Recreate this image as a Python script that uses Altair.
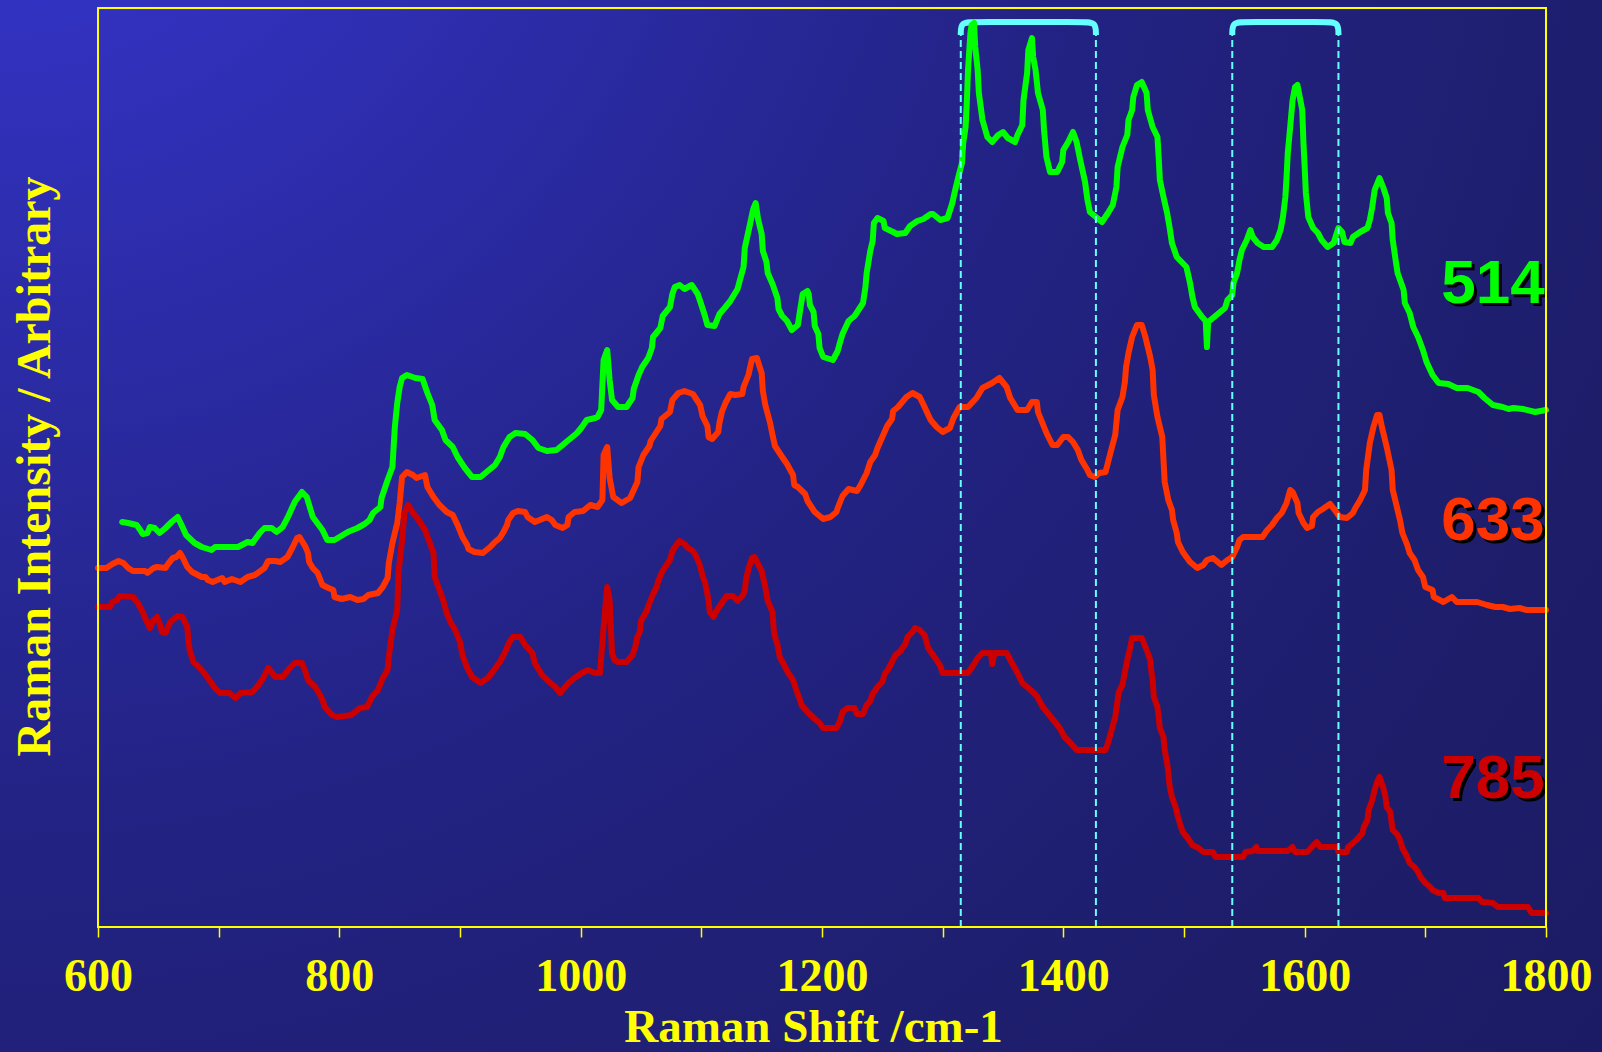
import altair as alt
import pandas as pd

# ---------------- data (wavenumber in cm-1, intensity in arbitrary units) ----------------
wn_514 = [620,625,632,635,637,641,643,647,651,656,661,666,670,673,680,686,694,697,716,724,
          728,734,738,744,748,753,757,763,769,773,778,786,790,796,807,815,821,825,828,834,
          835,840,844,845,846,848,850,852,856,863,869,873,877,879,885,888,894,898,904,910,
          917,922,929,933,936,941,946,954,960,965,972,980,985,990,997,1001,1005,1012,1014,1017,
          1019,1022,1024,1026,1031,1038,1043,1044,1048,1051,1056,1059,1060,1066,1068,1074,1076,1078,1082,1086,
          1092,1097,1099,1103,1105,1111,1115,1120,1124,1130,1132,1135,1136,1140,1143,1145,1147,1150,1151,1154,
          1155,1159,1163,1164,1167,1171,1175,1180,1182,1184,1188,1189,1190,1193,1194,1197,1198,1201,1209,1213,
          1215,1217,1222,1227,1234,1236,1237,1240,1242,1243,1246,1251,1252,1259,1262,1269,1273,1279,1284,1290,
          1292,1298,1304,1308,1310,1313,1316,1317,1319,1320,1321,1323,1324,1326,1327,1329,1330,1333,1337,1341,
          1346,1350,1354,1360,1362,1366,1367,1370,1371,1374,1375,1377,1379,1383,1384,1386,1389,1395,1399,1400,
          1404,1408,1411,1414,1418,1420,1422,1428,1432,1437,1441,1444,1445,1449,1453,1454,1457,1458,1461,1465,
          1469,1470,1474,1478,1479,1480,1483,1486,1488,1490,1494,1502,1505,1507,1509,1515,1518,1519,1520,1527,
          1534,1536,1540,1541,1544,1546,1548,1552,1555,1557,1561,1566,1573,1577,1580,1582,1584,1585,1586,1588,
          1590,1592,1594,1598,1599,1600,1601,1603,1607,1611,1614,1619,1624,1628,1631,1633,1638,1640,1646,1652,
          1654,1656,1658,1662,1665,1668,1669,1672,1673,1675,1677,1682,1683,1687,1690,1694,1698,1701,1706,1711,
          1719,1726,1735,1744,1749,1756,1764,1769,1773,1781,1791,1800]
int_514 = [405,404,402,397,393,394,400,399,394,399,405,410,400,392,384,380,377,380,380,385,
           384,394,399,399,395,400,409,425,435,430,410,397,387,387,395,399,403,407,414,420,
           429,447,460,480,500,524,540,549,552,549,548,534,522,507,497,487,480,470,459,450,
           450,455,462,470,480,490,494,493,487,479,476,477,482,487,494,500,507,509,510,517,
           567,577,547,527,520,520,529,538,552,560,569,579,590,599,611,620,633,640,642,638,
           642,633,626,611,602,601,613,620,626,638,647,660,679,701,718,724,708,693,676,665,
           654,643,629,618,611,606,597,602,618,633,636,633,622,615,601,593,579,570,567,576,
           585,593,606,611,624,640,654,676,686,704,709,706,699,695,693,694,701,706,708,713,
           713,707,709,724,735,750,764,784,800,824,857,894,902,904,880,857,834,807,790,785,
           792,795,789,785,792,802,827,854,877,889,870,857,834,817,797,770,755,755,765,777,
           785,795,785,767,745,727,715,709,705,714,722,740,760,780,792,807,817,830,842,845,
           834,817,800,790,770,747,730,714,700,684,670,660,644,630,620,610,606,580,605,612,
           619,627,632,644,654,667,677,687,697,690,684,680,680,687,697,710,730,750,774,800,
           827,840,842,817,784,760,734,710,699,694,687,680,684,699,695,685,684,690,695,699,
           707,720,737,749,740,729,714,704,687,670,654,637,624,614,600,590,577,565,552,544,
           543,539,539,535,529,522,520,518,519,518,515,517]

wn_633 = [600,607,612,617,621,625,629,639,641,646,649,656,658,662,665,668,670,674,678,686,
          689,691,695,703,705,711,718,724,730,738,741,747,751,757,761,765,767,772,774,775,
          778,782,786,791,795,796,802,809,815,820,824,832,836,840,841,844,848,850,852,856,
          861,864,871,873,878,883,889,894,898,902,906,907,912,919,925,929,933,936,939,940,
          944,948,954,956,962,966,972,976,979,985,989,990,995,1002,1008,1014,1018,1019,1022,1024,
          1027,1034,1041,1047,1048,1052,1057,1058,1066,1067,1074,1076,1081,1086,1093,1099,1101,1105,1106,1109,
          1114,1115,1117,1120,1124,1128,1134,1135,1139,1142,1146,1150,1151,1153,1157,1159,1161,1167,1171,1176,
          1177,1180,1186,1188,1194,1201,1207,1212,1213,1217,1222,1229,1232,1237,1240,1244,1246,1250,1254,1258,
          1259,1263,1270,1275,1281,1285,1290,1295,1300,1306,1309,1314,1321,1328,1333,1341,1347,1353,1356,1362,
          1370,1374,1378,1379,1386,1391,1395,1400,1404,1408,1412,1415,1420,1422,1426,1430,1435,1439,1443,1445,
          1449,1451,1452,1454,1457,1461,1465,1468,1472,1474,1475,1478,1482,1483,1484,1487,1490,1491,1494,1495,
          1499,1505,1511,1516,1519,1524,1528,1531,1536,1540,1544,1546,1549,1557,1565,1569,1573,1577,1581,1585,
          1588,1590,1594,1595,1599,1602,1606,1607,1611,1615,1621,1625,1629,1635,1640,1642,1646,1650,1651,1654,
          1657,1660,1662,1664,1668,1672,1673,1677,1679,1681,1685,1687,1691,1694,1698,1700,1706,1707,1715,1722,
          1726,1743,1751,1758,1764,1770,1778,1784,1800]
int_633 = [359,359,363,366,364,359,356,356,354,359,360,359,363,369,370,374,370,360,355,350,
           350,347,345,349,345,348,345,350,352,359,366,366,365,370,379,389,390,380,374,365,
           359,354,342,339,337,330,328,330,327,328,332,334,340,349,364,384,404,424,450,455,
           452,449,452,440,430,422,415,412,402,390,382,378,375,374,380,385,389,395,402,407,
           414,416,415,410,405,407,410,407,402,399,402,410,415,416,422,420,427,472,480,449,
           430,424,429,445,460,472,481,486,501,508,515,527,534,536,533,522,511,501,490,488,
           495,504,515,524,533,532,533,540,552,568,569,554,536,522,504,492,481,470,463,452,
           442,440,433,426,415,408,410,415,419,431,438,436,442,454,465,472,479,490,501,508,
           516,520,530,534,530,520,507,500,495,499,509,520,520,529,539,544,549,540,529,517,
           517,525,525,515,494,482,482,490,490,485,477,467,457,452,450,454,455,474,492,517,
           530,545,560,574,590,602,602,590,570,557,532,510,490,467,445,427,417,407,394,385,
           375,365,359,362,367,369,365,362,367,370,380,387,390,390,390,397,402,409,414,424,
           437,435,424,414,404,399,401,410,415,418,423,417,410,409,414,419,427,437,457,484,
           500,512,512,500,480,457,437,417,407,394,382,374,367,357,350,340,337,330,325,330,
           325,325,322,320,320,318,319,317,317]

wn_785 = [600,610,612,616,618,629,633,637,639,641,643,646,649,651,653,656,658,660,664,666,
          670,674,675,676,679,682,686,691,697,701,709,714,718,728,733,737,741,747,753,759,
          763,769,772,774,780,784,786,788,794,798,810,817,823,827,832,836,840,841,844,848,
          849,852,854,857,861,864,871,875,878,879,883,886,889,892,896,900,902,906,910,917,
          923,927,933,937,941,944,950,954,960,962,968,975,979,983,990,995,1001,1006,1012,1016,
          1019,1022,1024,1026,1028,1031,1038,1043,1045,1047,1049,1050,1055,1057,1060,1063,1064,1067,1070,1074,
          1076,1080,1082,1086,1089,1093,1096,1099,1101,1103,1105,1106,1107,1110,1113,1117,1121,1126,1130,1134,
          1136,1137,1139,1142,1144,1147,1150,1153,1155,1159,1160,1161,1163,1165,1169,1172,1176,1179,1182,1183,
          1188,1194,1198,1201,1212,1215,1217,1221,1227,1229,1234,1237,1240,1242,1246,1250,1252,1255,1261,1265,
          1269,1271,1275,1277,1281,1285,1288,1292,1295,1298,1300,1314,1321,1325,1329,1333,1340,1341,1343,1353,
          1357,1362,1366,1372,1378,1383,1391,1397,1401,1406,1411,1435,1437,1440,1443,1445,1446,1449,1451,1453,
          1455,1457,1465,1468,1470,1472,1473,1474,1475,1478,1479,1480,1483,1484,1486,1487,1488,1490,1493,1495,
          1497,1499,1503,1507,1512,1516,1524,1526,1549,1551,1557,1560,1561,1586,1590,1592,1602,1606,1610,1613,
          1627,1628,1635,1636,1640,1643,1648,1649,1652,1653,1656,1658,1660,1662,1665,1667,1668,1671,1672,1673,
          1677,1679,1681,1685,1687,1691,1694,1696,1700,1704,1706,1711,1715,1716,1744,1747,1756,1760,1785,1788,
          1800]
int_785 = [320,320,325,327,331,330,324,315,309,304,299,307,310,304,295,294,300,305,309,311,
           310,300,285,277,265,262,257,249,239,234,234,229,234,235,242,249,259,250,250,259,
           264,264,255,247,240,232,227,220,212,210,212,219,220,230,237,249,257,270,297,317,
           354,387,414,422,414,410,397,384,374,350,337,327,314,305,297,285,272,259,250,244,
           249,255,265,274,285,290,290,282,274,264,252,244,240,234,244,249,254,257,254,254,
           300,340,327,274,267,265,265,272,279,290,295,306,317,324,333,340,345,354,360,367,
           376,383,386,383,379,376,370,361,351,345,333,326,315,310,317,324,331,331,326,331,
           336,347,358,369,370,363,356,340,326,315,297,290,283,270,261,254,247,236,226,222,
           215,208,204,199,199,206,215,219,219,213,213,222,226,233,240,245,253,258,272,276,
           283,290,295,299,297,292,279,272,267,261,254,254,254,261,269,274,274,263,274,274,
           265,254,244,238,231,220,208,199,190,184,177,177,184,197,210,227,235,242,255,267,
           277,289,289,280,274,267,255,247,230,220,210,199,190,177,164,155,142,130,120,110,
           102,95,89,82,79,75,75,70,70,75,76,80,76,76,80,75,75,80,85,80,
           80,75,75,80,84,87,94,100,107,117,127,137,145,150,140,130,120,115,105,97,
           92,87,79,70,64,60,55,50,44,40,37,34,34,29,29,25,24,20,20,14,
           14]

for a, b in ((wn_514, int_514), (wn_633, int_633), (wn_785, int_785)):
    assert len(a) == len(b), (len(a), len(b))

series = ["514", "633", "785"]
series_colors = ["#00FF00", "#FF3300", "#CC0000"]
label_wn = [1799, 1799, 1799]
label_int = [624, 387, 129]

guide_wn = [1315, 1427, 1540, 1628]     # dashed guide positions
guide_top = 892
bracket_wn = [[1315, 1315, 1326, 1416, 1427, 1427],
              [1540, 1540, 1551, 1617, 1628, 1628]]
bracket_int = [892, 905, 905, 905, 905, 892]

x_ticks = list(range(600, 1801, 100))
X_DOMAIN = [600, 1800]
Y_DOMAIN = [0, 919]

W, H = 1448, 919
YELLOW = "#FFFF00"
CYAN = "#66FFFF"

# ---------------- tables ----------------
rows = []
for s, wn, it in zip(series, (wn_514, wn_633, wn_785), (int_514, int_633, int_785)):
    for k, (a, b) in enumerate(zip(wn, it)):
        rows.append({"series": s, "wn": a, "intensity": b, "k": k})
spectra = pd.DataFrame(rows)

labels = pd.DataFrame({"series": series, "wn": label_wn, "intensity": label_int})
guides = pd.DataFrame({"wn": guide_wn, "intensity": [0] * len(guide_wn),
                       "intensity2": [guide_top] * len(guide_wn)})
brows = []
for b, xs in enumerate(bracket_wn):
    for k, (a, c) in enumerate(zip(xs, bracket_int)):
        brows.append({"b": b, "k": k, "wn": a, "intensity": c})
brackets = pd.DataFrame(brows)

# ---------------- scales / axes ----------------
xscale = alt.Scale(domain=X_DOMAIN, nice=False, zero=False)
yscale = alt.Scale(domain=Y_DOMAIN, nice=False, zero=False)
cscale = alt.Scale(domain=series, range=series_colors)

x_axis = alt.Axis(
    values=x_ticks, format="d",
    labelExpr="datum.value % 200 == 0 ? datum.label : ''",
    grid=False, domain=False, ticks=True, tickSize=10, tickColor=YELLOW, tickWidth=1.5,
    labelColor=YELLOW, labelFont="Liberation Serif", labelFontSize=46, labelFontWeight="bold",
    labelPadding=53, labelBaseline="alphabetic", labelFlush=False, labelOverlap=False,
    title="Raman Shift /cm-1", titleColor=YELLOW, titleFont="Liberation Serif",
    titleFontSize=47, titleFontWeight="bold", titleX=715, titleY=114,
    titleBaseline="alphabetic", titleAlign="center", zindex=1,
)
y_axis = alt.Axis(
    labels=False, ticks=False, domain=False, grid=False,
    title="Raman Intensity / Arbitrary", titleColor=YELLOW, titleFont="Liberation Serif",
    titleFontSize=48, titleFontWeight="bold", titleAngle=270, titleX=-49, titleY=458,
    titleBaseline="alphabetic", titleAlign="center", zindex=1,
)

X = alt.X("wn:Q", scale=xscale, axis=x_axis)
Y = alt.Y("intensity:Q", scale=yscale, axis=y_axis)

# ---------------- layers ----------------
bg_grad = alt.RadialGradient(
    gradient="radial", x1=0, y1=0, r1=0, x2=0, y2=0, r2=1.4,
    stops=[
        alt.GradientStop(offset=0.0, color="#3636D2"),
        alt.GradientStop(offset=0.12, color="#3232C2"),
        alt.GradientStop(offset=0.24, color="#2D2DAD"),
        alt.GradientStop(offset=0.4, color="#262692"),
        alt.GradientStop(offset=0.5, color="#222283"),
        alt.GradientStop(offset=0.64, color="#202076"),
        alt.GradientStop(offset=0.78, color="#1D1D6A"),
        alt.GradientStop(offset=1.0, color="#1A1A62"),
    ],
)
one = pd.DataFrame({"a": [0]})
background = alt.Chart(one).mark_rect(fill=bg_grad, strokeWidth=0).encode(
    x=alt.value(-98), x2=alt.value(W + 56), y=alt.value(-8), y2=alt.value(H + 125)
)

bracket_layer = alt.Chart(brackets).mark_line(
    color=CYAN, strokeWidth=6, interpolate="basis", strokeCap="butt"
).encode(x=X, y=Y, detail="b:N", order="k:Q")

lines = alt.Chart(spectra).mark_line(
    strokeWidth=6, strokeJoin="round", strokeCap="round"
).encode(
    x=X, y=Y,
    color=alt.Color("series:N", scale=cscale, legend=None),
    order="k:Q",
)

guide_layer = alt.Chart(guides).mark_rule(
    color=CYAN, strokeWidth=2, strokeDash=[7, 4]
).encode(x=X, y=Y, y2="intensity2:Q")

shadow = alt.Chart(labels).mark_text(
    font="Liberation Sans", fontSize=62, fontWeight="bold", align="right",
    baseline="alphabetic", dx=3, dy=3, color="#000000"
).encode(x=X, y=Y, text="series:N")

label_text = alt.Chart(labels).mark_text(
    font="Liberation Sans", fontSize=62, fontWeight="bold", align="right",
    baseline="alphabetic"
).encode(x=X, y=Y, text="series:N",
         color=alt.Color("series:N", scale=cscale, legend=None))

border = alt.Chart(one).mark_rect(
    fillOpacity=0, stroke=YELLOW, strokeWidth=2
).encode(x=alt.value(0), x2=alt.value(W), y=alt.value(0), y2=alt.value(H))

chart = alt.layer(
    background, bracket_layer, lines, guide_layer, shadow, label_text, border
).properties(
    width=W, height=H, padding=0, background="#1A1A62"
).configure_view(stroke="transparent")

chart.save("out.html", embed_options={"renderer": "svg", "actions": False})
